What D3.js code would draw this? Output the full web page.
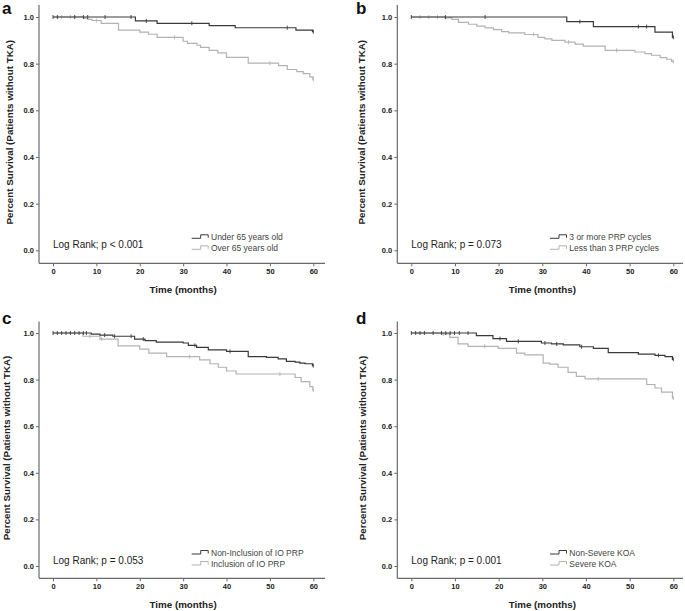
<!DOCTYPE html>
<html><head><meta charset="utf-8">
<script src="https://cdn.jsdelivr.net/npm/d3@7"></script>
<style>html,body{margin:0;padding:0;background:#fff}svg{display:block}</style>
</head><body>
<script>
// ---------- data ----------
const panelLetters = ["a", "b", "c", "d"];
const logRankTexts = ["Log Rank; p < 0.001", "Log Rank; p = 0.073", "Log Rank; p = 0.053", "Log Rank; p = 0.001"];
const legendA = ["Under 65 years old", "Over 65 years old"];
const legendB = ["3 or more PRP cycles", "Less than 3 PRP cycles"];
const legendC = ["Non-Inclusion of IO PRP", "Inclusion of IO PRP"];
const legendD = ["Non-Severe KOA", "Severe KOA"];
const xTickValues = [0, 10, 20, 30, 40, 50, 60];
const yTickValues = [0, 0.2, 0.4, 0.6, 0.8, 1.0];
const xTitle = "Time (months)";
const yTitle = "Percent Survival (Patients without TKA)";

// step curves: [month, survival]
const aDark = [[0,1],[19,0.983],[24,0.973],[36,0.963],[42,0.954],[56,0.944],[59.8,0.937],[60,0.937]];
const aLight = [[0,1],[7.1,0.995],[8,0.99],[9,0.985],[11.1,0.973],[15.1,0.944],[20,0.935],[22,0.926],[24,0.913],[30,0.896],[31,0.887],[33.2,0.879],[34,0.87],[36,0.857],[38,0.846],[40,0.827],[45,0.802],[52,0.792],[54,0.775],[56.2,0.766],[57.7,0.757],[59.2,0.743],[59.9,0.733],[60,0.733]];
const bDark = [[0,1],[35.6,0.98],[41.7,0.959],[55.8,0.935],[59.8,0.913],[60,0.913]];
const bLight = [[0,1],[7.8,0.996],[9.3,0.99],[10.8,0.977],[13.1,0.969],[15,0.961],[16.9,0.953],[18.8,0.946],[20.7,0.937],[22.3,0.932],[26,0.925],[29,0.913],[30.6,0.906],[32.2,0.9],[35.2,0.892],[37.5,0.884],[39.4,0.875],[44.4,0.857],[51.2,0.85],[53.5,0.843],[55,0.836],[57,0.826],[58.5,0.819],[59.6,0.81],[60,0.81]];
const cDark = [[0,1],[8.8,0.995],[10.8,0.991],[13.8,0.986],[18.8,0.974],[21.2,0.967],[23.8,0.961],[30,0.957],[31.2,0.947],[33.1,0.938],[35.8,0.928],[40,0.921],[45,0.899],[49.2,0.895],[51.9,0.889],[53.8,0.878],[55.8,0.875],[56.9,0.871],[58.1,0.868],[59.8,0.86],[60,0.86]];
const cLight = [[0,1],[6.9,0.986],[10.8,0.974],[15,0.945],[20,0.931],[22.1,0.914],[26.2,0.899],[33.8,0.885],[36.2,0.868],[38.1,0.853],[40,0.837],[42.2,0.824],[55.8,0.809],[57.2,0.791],[59.2,0.77],[59.9,0.755],[60,0.755]];
const dDark = [[0,1],[14.9,0.989],[18.7,0.976],[21.8,0.964],[29.8,0.957],[32.1,0.953],[34.8,0.949],[38.6,0.941],[41.7,0.934],[45.1,0.916],[52,0.909],[55.8,0.904],[58.1,0.899],[59.8,0.887],[60,0.887]];
const dLight = [[0,1],[6.9,0.996],[8.8,0.981],[10.7,0.953],[13,0.943],[19.9,0.934],[24.1,0.914],[26,0.906],[30.2,0.871],[31.7,0.866],[33.6,0.853],[35.9,0.831],[37.8,0.814],[39.8,0.803],[53.9,0.779],[55.8,0.764],[57.3,0.746],[59.8,0.721],[60,0.721]];

// censoring times (months)
const aDarkCens = [0,1,5,7,8,12,18,21.5,32,54,60];
const aLightCens = [2,4,10,28,50,60];
const bDarkCens = [0,7.8,16.9,38.6,52,53.9,60];
const bLightCens = [2,4,6,28,36,47,60];
const cDarkCens = [0,1,2,3,4,5,6,7,7.7,11.9,14.2,18,20.8,32.7,40.8,60];
const cLightCens = [8.5,11.2,31.5,52.3,60];
const dDarkCens = [0,1,2,3,5,6.9,7.9,8.9,9.9,11,13,20.3,24.5,30.6,33.3,39,56.6,60];
const dLightCens = [7.3,16.8,42.8,60];

// ---------- layout ----------
const W = 685, H = 611;
const darkColor = "#3a3a3a", lightColor = "#b3b3b3", axisColor = "#6a6a6a", textColor = "#222";
const FONT = "'Liberation Sans', Arial, sans-serif";
const cols = [
  {axis: 39, x0: 53, x60: 313.3, xEnd: 325, labelX: 9.5, letterX: 2},
  {axis: 397.3, x0: 411.3, x60: 673.3, xEnd: 683, labelX: 361, letterX: 356}
];
const rows = [
  {y1: 17, y0: 250.3, xAxisY: 263.3, top: 5, letterY: 14},
  {y1: 333, y0: 566, xAxisY: 578.3, top: 321.5, letterY: 324}
];
const panels = [
  {dark: aDark, light: aLight, dc: aDarkCens, lc: aLightCens, legend: legendA, col: 0, row: 0, labelX: 9.5},
  {dark: bDark, light: bLight, dc: bDarkCens, lc: bLightCens, legend: legendB, col: 1, row: 0, labelX: 361},
  {dark: cDark, light: cLight, dc: cDarkCens, lc: cLightCens, legend: legendC, col: 0, row: 1, labelX: 6.5},
  {dark: dDark, light: dLight, dc: dDarkCens, lc: dLightCens, legend: legendD, col: 1, row: 1, labelX: 362}
];

const svg = d3.select("body").append("svg").attr("width", W).attr("height", H)
  .style("font-family", FONT);

function survAt(steps, t) {
  let v = steps[0][1];
  for (const s of steps) { if (s[0] <= t) v = s[1]; }
  return v;
}

panels.forEach((p, i) => {
  const c = cols[p.col], r = rows[p.row];
  const x = d3.scaleLinear().domain([0, 60]).range([c.x0, c.x60]);
  const y = d3.scaleLinear().domain([0, 1]).range([r.y0, r.y1]);
  const g = svg.append("g");

  // axis lines
  g.append("line").attr("x1", c.axis).attr("x2", c.axis).attr("y1", r.top).attr("y2", r.xAxisY)
    .attr("stroke", axisColor).attr("stroke-width", 1.2);
  g.append("line").attr("x1", c.axis).attr("x2", c.xEnd).attr("y1", r.xAxisY).attr("y2", r.xAxisY)
    .attr("stroke", axisColor).attr("stroke-width", 1.2);

  // y axis
  const ya = g.append("g").attr("transform", `translate(${c.axis},0)`)
    .call(d3.axisLeft(y).tickValues(yTickValues).tickSize(3).tickPadding(2).tickFormat(d3.format(".1f")));
  ya.select(".domain").remove();
  ya.selectAll("line").attr("stroke", axisColor);
  ya.selectAll("text").attr("font-size", 7.5).attr("font-weight", "bold").attr("fill", textColor)
    .attr("font-family", FONT);

  // x axis
  const xa = g.append("g").attr("transform", `translate(0,${r.xAxisY})`)
    .call(d3.axisBottom(x).tickValues(xTickValues).tickSize(3).tickPadding(2.5).tickFormat(d3.format("d")));
  xa.select(".domain").remove();
  xa.selectAll("line").attr("stroke", axisColor);
  xa.selectAll("text").attr("font-size", 7.5).attr("font-weight", "bold").attr("fill", textColor)
    .attr("font-family", FONT);

  // titles
  g.append("text").attr("x", (c.x0 + c.x60) / 2).attr("y", r.xAxisY + 29.5)
    .attr("text-anchor", "middle").attr("font-size", 9.8).attr("font-weight", "bold")
    .attr("fill", textColor).text(xTitle);
  const cy = (r.top + r.xAxisY) / 2 - 2;
  g.append("text").attr("transform", `translate(${p.labelX},${cy}) rotate(-90)`)
    .attr("text-anchor", "middle").attr("dominant-baseline", "central")
    .attr("font-size", 9.8).attr("font-weight", "bold").attr("fill", textColor).text(yTitle);

  // panel letter
  g.append("text").attr("x", c.letterX).attr("y", r.letterY).attr("font-size", 17)
    .attr("font-weight", "bold").attr("fill", "#111").text(panelLetters[i]);

  // curves
  const line = d3.line().x(d => x(d[0])).y(d => y(d[1])).curve(d3.curveStepAfter);
  [[p.light, p.lc, lightColor], [p.dark, p.dc, darkColor]].forEach(([steps, cens, col]) => {
    g.append("path").attr("d", line(steps)).attr("fill", "none").attr("stroke", col).attr("stroke-width", 1.2);
    g.selectAll(null).data(cens).enter().append("line")
      .attr("x1", d => x(d)).attr("x2", d => x(d))
      .attr("y1", d => y(survAt(steps, d)) - 2).attr("y2", d => y(survAt(steps, d)) + 2)
      .attr("stroke", col).attr("stroke-width", 0.9);
  });

  // log rank text
  g.append("text").attr("x", x(0)).attr("y", r.y0 - 6).attr("dominant-baseline", "central")
    .attr("font-size", 10).attr("fill", textColor).text(logRankTexts[i]);

  // legend
  const sx = c.x0 + 138.7;
  [darkColor, lightColor].forEach((col, k) => {
    const ly = r.y0 - 13 + k * 11;
    g.append("path").attr("d", `M${sx},${ly + 1}H${sx + 9}V${ly - 2.5}H${sx + 16.5}V${ly + 0.5}`)
      .attr("fill", "none").attr("stroke", col).attr("stroke-width", 1);
    g.append("text").attr("x", sx + 19.3).attr("y", ly).attr("dominant-baseline", "central")
      .attr("font-size", 8.5).attr("fill", "#444").text(p.legend[k]);
  });
});
</script>
</body></html>
